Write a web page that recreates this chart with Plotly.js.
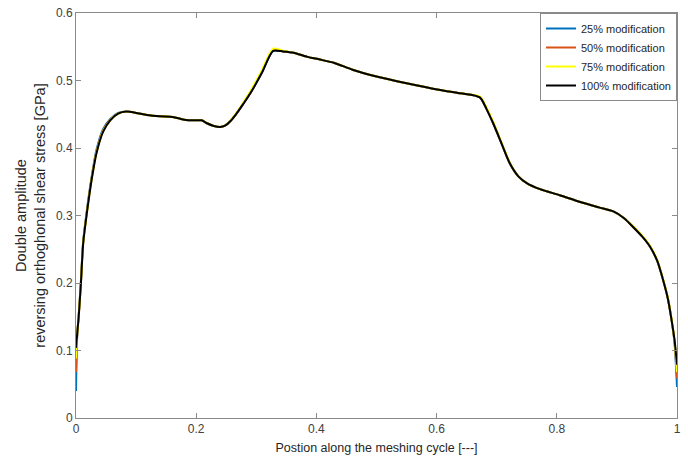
<!DOCTYPE html>
<html>
<head>
<meta charset="utf-8">
<script src="https://cdn.plot.ly/plotly-3.0.1.min.js"></script>
<style>html,body{margin:0;padding:0;background:#fff;}#chart{width:688px;height:464px;}</style>
</head>
<body>
<div id="chart"></div>
<script>
// Shared positions along the meshing cycle
const xPos = [0, 0.002, 0.0045, 0.008, 0.012, 0.018, 0.026, 0.034, 0.045, 0.057, 0.070, 0.084, 0.100, 0.118, 0.140, 0.161, 0.180, 0.200, 0.209, 0.217, 0.228, 0.240, 0.248, 0.257, 0.267, 0.278, 0.290, 0.309, 0.328, 0.345, 0.362, 0.385, 0.406, 0.430, 0.460, 0.500, 0.550, 0.606, 0.640, 0.672, 0.683, 0.694, 0.708, 0.722, 0.736, 0.750, 0.772, 0.805, 0.839, 0.870, 0.894, 0.912, 0.927, 0.942, 0.955, 0.967, 0.977, 0.985, 0.991, 0.996, 1.0];

const seriesNames = ["25% modification", "50% modification", "75% modification", "100% modification"];
const seriesColors = ["#0072BD", "#D95319", "#FFFF00", "#000000"];

const y25 = [0.040, 0.122, 0.152, 0.200, 0.262, 0.307, 0.357, 0.397, 0.428, 0.443, 0.452, 0.454, 0.452, 0.449, 0.447, 0.446, 0.442, 0.441, 0.441, 0.437, 0.433, 0.431, 0.433, 0.440, 0.451, 0.465, 0.481, 0.511, 0.544, 0.543, 0.541, 0.535, 0.531, 0.526, 0.516, 0.506, 0.496, 0.486, 0.481, 0.475, 0.458, 0.437, 0.407, 0.377, 0.358, 0.348, 0.339, 0.330, 0.320, 0.312, 0.306, 0.296, 0.283, 0.269, 0.254, 0.233, 0.204, 0.176, 0.145, 0.110, 0.046];
const y50 = [0.068, 0.123, 0.151, 0.198, 0.260, 0.305, 0.355, 0.394, 0.426, 0.442, 0.451, 0.454, 0.452, 0.449, 0.447, 0.446, 0.442, 0.441, 0.441, 0.437, 0.433, 0.431, 0.433, 0.440, 0.451, 0.465, 0.481, 0.512, 0.545, 0.543, 0.541, 0.535, 0.531, 0.526, 0.516, 0.506, 0.496, 0.486, 0.481, 0.475, 0.458, 0.437, 0.407, 0.377, 0.358, 0.348, 0.339, 0.330, 0.320, 0.312, 0.306, 0.296, 0.283, 0.269, 0.254, 0.233, 0.204, 0.176, 0.145, 0.112, 0.059];
const y75 = [0.088, 0.124, 0.151, 0.198, 0.260, 0.304, 0.354, 0.393, 0.425, 0.441, 0.451, 0.454, 0.452, 0.449, 0.447, 0.446, 0.442, 0.441, 0.441, 0.437, 0.433, 0.431, 0.433, 0.441, 0.452, 0.467, 0.484, 0.515, 0.547, 0.544, 0.541, 0.535, 0.531, 0.526, 0.516, 0.506, 0.496, 0.486, 0.481, 0.476, 0.460, 0.439, 0.408, 0.378, 0.358, 0.348, 0.339, 0.330, 0.320, 0.312, 0.306, 0.296, 0.284, 0.270, 0.255, 0.234, 0.205, 0.177, 0.146, 0.113, 0.068];
const y100 = [0.104, 0.125, 0.150, 0.197, 0.259, 0.303, 0.353, 0.392, 0.424, 0.441, 0.451, 0.454, 0.452, 0.449, 0.447, 0.446, 0.442, 0.441, 0.441, 0.437, 0.433, 0.431, 0.433, 0.440, 0.451, 0.465, 0.481, 0.511, 0.544, 0.543, 0.541, 0.535, 0.531, 0.526, 0.516, 0.506, 0.496, 0.486, 0.481, 0.475, 0.458, 0.437, 0.407, 0.377, 0.358, 0.348, 0.339, 0.330, 0.320, 0.312, 0.306, 0.296, 0.283, 0.269, 0.254, 0.233, 0.204, 0.176, 0.145, 0.115, 0.079];

const xTickVals = [0, 0.2, 0.4, 0.6, 0.8, 1];
const xTickText = ["0", "0.2", "0.4", "0.6", "0.8", "1"];
const yTickVals = [0, 0.1, 0.2, 0.3, 0.4, 0.5, 0.6];
const yTickText = ["0", "0.1", "0.2", "0.3", "0.4", "0.5", "0.6"];

const ySeries = [y25, y50, y75, y100];
const traces = ySeries.map((ys, i) => ({
  x: xPos, y: ys, type: "scatter", mode: "lines", name: seriesNames[i],
  line: {color: seriesColors[i], width: 2, shape: "spline", smoothing: 0.7}
}));

const axisCommon = {
  showgrid: false, zeroline: false, showline: true, linecolor: "#8a8a8a", linewidth: 1,
  mirror: "ticks", ticks: "inside", ticklen: 5, tickcolor: "#8a8a8a",
  tickfont: {family: "Liberation Sans, Arial, sans-serif", size: 12, color: "#404040"}
};

const layout = {
  width: 688, height: 464,
  margin: {l: 76, r: 11, t: 13, b: 46},
  paper_bgcolor: "#fff", plot_bgcolor: "#fff",
  showlegend: true,
  legend: {x: 1, y: 1, xanchor: "right", yanchor: "top", bgcolor: "#fff",
    bordercolor: "#8a8a8a", borderwidth: 1, tracegroupgap: 0,
    font: {family: "Liberation Sans, Arial, sans-serif", size: 11, color: "#262626"}},
  xaxis: Object.assign({}, axisCommon, {range: [0, 1], tickvals: xTickVals, ticktext: xTickText,
    title: {text: "Postion along the meshing cycle [---]", standoff: 7,
      font: {family: "Liberation Sans, Arial, sans-serif", size: 12.5, color: "#262626"}}}),
  yaxis: Object.assign({}, axisCommon, {range: [0, 0.6], tickvals: yTickVals, ticktext: yTickText,
    title: {text: "Double amplitude<br>reversing orthoghonal shear stress [GPa]", standoff: 6,
      font: {family: "Liberation Sans, Arial, sans-serif", size: 14.5, color: "#262626"}}})
};

Plotly.newPlot("chart", traces, layout, {displayModeBar: false, staticPlot: true});
</script>
</body>
</html>
